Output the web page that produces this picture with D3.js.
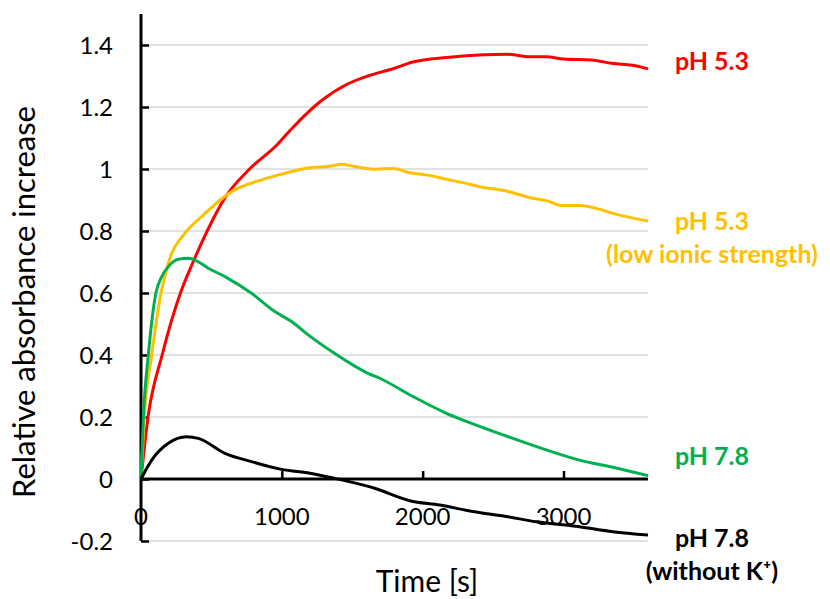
<!DOCTYPE html>
<html>
<head>
<meta charset="utf-8">
<script src="https://cdn.jsdelivr.net/npm/d3@7"></script>
<style>
body{margin:0;background:#fff;}
text{font-family:Lato,"Open Sans",sans-serif;}
</style>
</head>
<body>
<div id="chart"></div>
<script>
// time in s, values = relative absorbance increase
var redT = [0,50,150,280,370,470,600,760,970,1070,1280,1470,1610,1800,1930,2170,2400,2600,2760,2880,3000,3200,3350,3490,3600];
var redV = [0,0.2,0.4,0.6,0.7,0.8,0.91,0.995,1.08,1.13,1.22,1.275,1.30,1.325,1.345,1.36,1.368,1.37,1.362,1.362,1.355,1.352,1.34,1.335,1.323];

var orangeT = [0,23,76,142,194,312,430,643,856,1021,1210,1329,1423,1518,1660,1790,1908,2026,2168,2286,2404,2594,2759,2877,2995,3113,3232,3350,3600];
var orangeV = [0,0.2,0.4,0.6,0.696,0.793,0.846,0.927,0.965,0.986,1.005,1.008,1.015,1.008,0.999,1.002,0.988,0.981,0.967,0.956,0.943,0.929,0.908,0.898,0.882,0.882,0.873,0.857,0.832];

var greenT = [0,17,52,106,147,194,265,336,395,478,596,785,950,1069,1187,1376,1612,1695,1931,2168,2381,2641,2877,3113,3350,3600];
var greenV = [0,0.2,0.4,0.6,0.653,0.685,0.709,0.712,0.704,0.68,0.653,0.599,0.54,0.508,0.465,0.405,0.341,0.325,0.266,0.212,0.174,0.131,0.094,0.061,0.038,0.011];

var blackT = [0,76,194,324,407,596,785,998,1210,1376,1660,1908,2121,2357,2594,2806,3113,3350,3600];
var blackV = [0,0.061,0.115,0.136,0.131,0.083,0.056,0.031,0.018,0.002,-0.03,-0.07,-0.084,-0.105,-0.121,-0.138,-0.154,-0.17,-0.181];

var xTicks = [0,1000,2000,3000];
var yTicks = [-0.2,0,0.2,0.4,0.6,0.8,1,1.2,1.4];
var yTickLabels = ["-0.2","0","0.2","0.4","0.6","0.8","1","1.2","1.4"];

var series = [
  {t:redT, v:redV, color:"#ff0000", label:["pH 5.3"], ly:70},
  {t:orangeT, v:orangeV, color:"#ffc000", label:["pH 5.3","(low ionic strength)"], ly:230},
  {t:greenT, v:greenV, color:"#00b050", label:["pH 7.8"], ly:465},
  {t:blackT, v:blackV, color:"#000000", label:["pH 7.8","(without K\u207a)"], ly:547}
];

var W = 830, H = 599;
var svg = d3.select("#chart").append("svg").attr("width",W).attr("height",H);

var x = d3.scaleLinear().domain([0,3600]).range([141,648]);
var y = d3.scaleLinear().domain([-0.2,1.5]).range([541,14]);

//gridlines
svg.append("g").selectAll("line").data(yTicks).enter().append("line")
  .attr("x1",x(0)).attr("x2",x(3600))
  .attr("y1",function(d){return y(d);}).attr("y2",function(d){return y(d);})
  .attr("stroke","#d9d9d9").attr("stroke-width",1.5);

//x axis at zero
var xAxis = svg.append("g").attr("transform","translate(0,"+y(0)+")")
  .call(d3.axisTop(x).tickValues(xTicks.slice(1)).tickSize(8).tickFormat(""));
xAxis.select(".domain").attr("stroke","#000").attr("stroke-width",3).attr("d","M"+x(0)+",0H"+x(3600));
xAxis.selectAll(".tick line").attr("stroke-width",2.5);

svg.append("g").selectAll("text").data(xTicks).enter().append("text")
  .attr("x",function(d){return x(d);}).attr("y",525)
  .attr("text-anchor","middle").attr("font-size",24).attr("fill","#000")
  .text(function(d){return d;});

//y axis
var yAxis = svg.append("g").attr("transform","translate("+x(0)+",0)")
  .call(d3.axisRight(y).tickValues(yTicks).tickSize(8).tickFormat(""));
yAxis.select(".domain").attr("stroke","#000").attr("stroke-width",3).attr("d","M0,"+y(1.5)+"V"+y(-0.2));
yAxis.selectAll(".tick line").attr("stroke-width",2.5);

svg.append("g").selectAll("text").data(yTicks).enter().append("text")
  .attr("x",113).attr("y",function(d){return y(d)+9;})
  .attr("text-anchor","end").attr("font-size",24).attr("fill","#000")
  .text(function(d,i){return yTickLabels[i];});

//lines
var line = d3.line().curve(d3.curveMonotoneX);
series.forEach(function(s){
  var pts = s.t.map(function(t,i){return [x(t),y(s.v[i])];});
  svg.append("path").attr("d",line(pts)).attr("fill","none")
    .attr("stroke",s.color).attr("stroke-width",3).attr("stroke-linejoin","round");
  s.label.forEach(function(txt,j){
    svg.append("text").attr("x",712).attr("y",s.ly+j*33)
      .attr("text-anchor","middle").attr("font-size",25).attr("font-weight","bold")
      .attr("fill",s.color).text(txt);
  });
});

//titles
svg.append("text").attr("x",427).attr("y",592).attr("text-anchor","middle")
  .attr("font-size",30).attr("fill","#000").text("Time [s]");
svg.append("text").attr("transform","translate(35,302) rotate(-90)").attr("text-anchor","middle")
  .attr("font-size",31).attr("fill","#000").text("Relative absorbance increase");
</script>
</body>
</html>
